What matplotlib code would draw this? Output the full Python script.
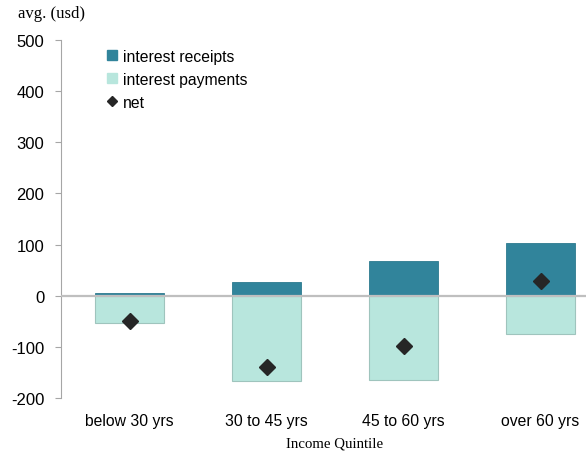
import matplotlib
matplotlib.use("Agg")
import matplotlib.pyplot as plt
from matplotlib.lines import Line2D
import numpy as np

categories = ["below 30 yrs", "30 to 45 yrs", "45 to 60 yrs", "over 60 yrs"]
receipts = [5, 26, 67, 104]
payments = [-53, -167, -165, -75]
net = [-49, -140, -99, 29]

C = {"rec": "#31849B", "pay": "#B8E6DD", "net": "#262626",
     "zero": "#BFBFBF", "spine": "#A6A6A6"}
SANS = "Liberation Sans"
SERIF = "Liberation Serif"
plt.rcParams["axes.unicode_minus"] = False

W, H = 586, 452
fig = plt.figure(figsize=(W / 100, H / 100), dpi=100)
# axis runs past the right edge of the picture, as in the reference
ax = fig.add_axes([61 / W, 1 - 399 / H, (609 - 61) / W, (399 - 41) / H])

xs = np.arange(len(categories))
ax.bar(xs, receipts, 0.5, color=C["rec"], edgecolor="#2C7A8E", lw=0.6, zorder=2)
ax.bar(xs, payments, 0.5, color=C["pay"], edgecolor="#9FC4BD", lw=0.8, zorder=2)
ax.axhline(0, color=C["zero"], lw=1.6, zorder=3)
ax.plot(xs, net, ls="none", marker="D", ms=8.5, color=C["net"], zorder=4)

ax.set_xlim(-0.5, 3.5)
ax.set_ylim(-200, 500)
ax.set_yticks(np.arange(-200, 501, 100))
ax.set_xticks(xs, categories)
for s in ("top", "right", "bottom"):
    ax.spines[s].set_visible(False)
ax.spines["left"].set_color(C["spine"])
ax.tick_params(axis="y", length=4, color=C["spine"], pad=8, labelsize=12)
ax.tick_params(axis="x", length=0, pad=11, labelsize=11.3)
for lab in ax.get_xticklabels() + ax.get_yticklabels():
    lab.set_family(SANS)

ax.set_xlabel("Income Quintile", family=SERIF, fontsize=10.7)
ax.xaxis.set_label_coords(0.5, -0.108)
fig.text(18 / W, 1 - 14 / H, "avg. (usd)", family=SERIF, fontsize=12,
         va="center", ha="left")

handles = [Line2D([], [], ls="none", marker="s", ms=7.5, color=C["rec"]),
           Line2D([], [], ls="none", marker="s", ms=7.5, color=C["pay"]),
           Line2D([], [], ls="none", marker="D", ms=5.5, color=C["net"])]
ax.legend(handles, ["interest receipts", "interest payments", "net"],
          loc="upper left", bbox_to_anchor=(99 / W, 1 - 42 / H),
          bbox_transform=fig.transFigure, frameon=False, borderpad=0,
          handlelength=0.7, handletextpad=0.3, labelspacing=0.5,
          prop={"family": SANS, "size": 11.3})

fig.savefig("out.png", dpi=100)
